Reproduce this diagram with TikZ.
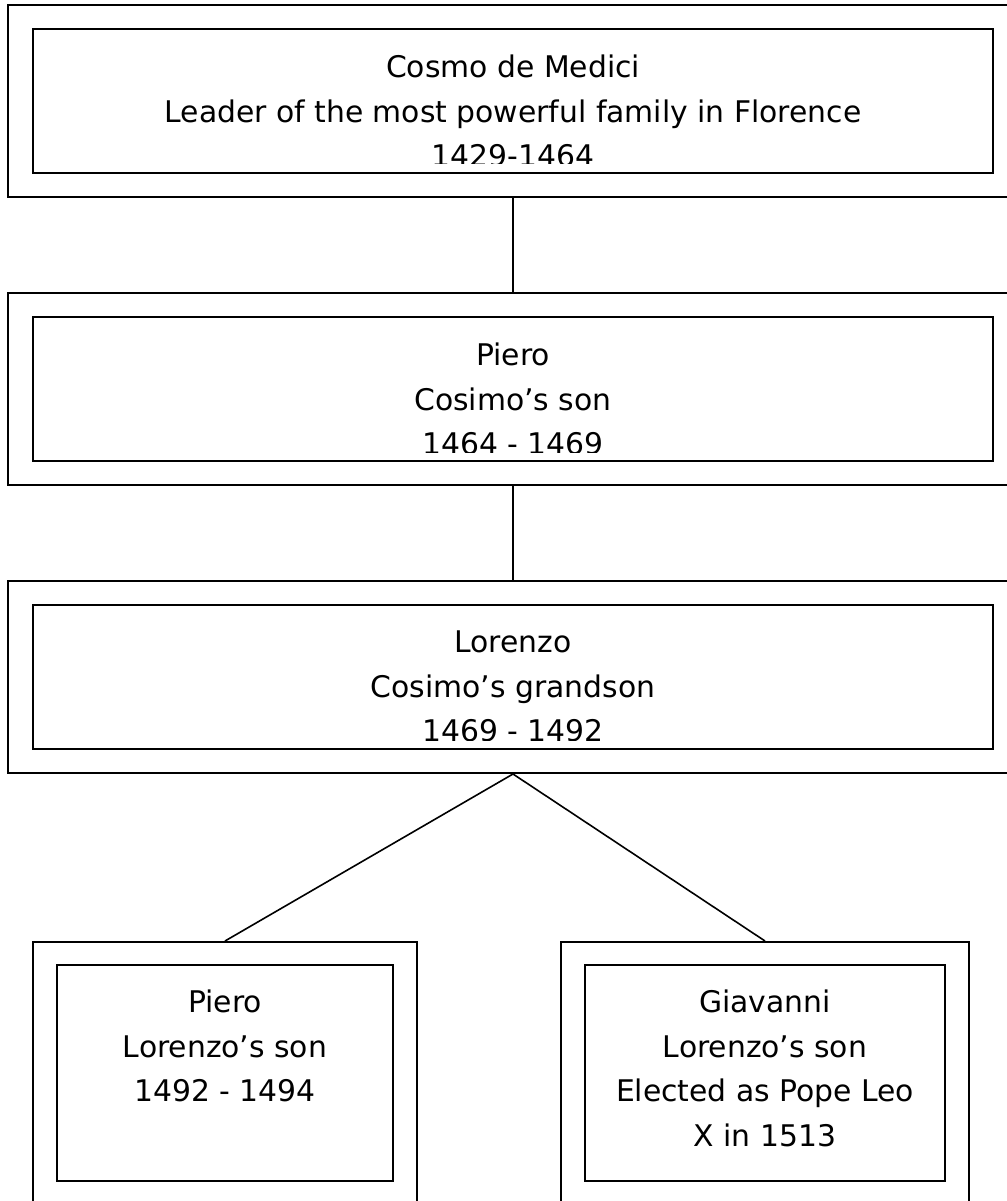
\documentclass[tikz,border=0pt]{standalone}
\usepackage{fontspec}
\setmainfont{DejaVu Sans}
\usepackage{tikz}
\usepackage{xcolor}

\begin{document}
\begin{tikzpicture}[x=1pt,y=-1pt]
\tikzstyle{outer} = [rectangle, draw, line width=2pt, inner sep=0pt];
\tikzstyle{inner} = [rectangle, draw, line width=2pt, inner sep=0pt];
\tikzstyle{label} = [align=center, inner sep=0pt, anchor=north,
font=\fontsize{29.8}{44.5}\selectfont];
\tikzstyle{line} = [draw, line width=1.6pt];

\useasboundingbox (0,0) rectangle (1006,1201);

% row 1
\node [outer, minimum width=1010pt, minimum height=192pt] (cosmo) at (513,101) {};
\node [inner, minimum width=960pt, minimum height=144pt] (cosmoin) at (513,101) {};
\begin{scope}
\clip (33,29) rectangle (993,164);
\node [label] (cosmotxt) at (513,55) {Cosmo de Medici\\
Leader of the most powerful family in Florence\\1429-1464};
\end{scope}

% row 2
\node [outer, minimum width=1010pt, minimum height=192pt] (piero) at (513,389) {};
\node [inner, minimum width=960pt, minimum height=144pt] (pieroin) at (513,389) {};
\begin{scope}
\clip (33,317) rectangle (993,452);
\node [label] (pierotxt) at (513,343) {Piero\\Cosimo’s son\\1464 - 1469};
\end{scope}

% row 3
\node [outer, minimum width=1010pt, minimum height=192pt] (lorenzo) at (513,677) {};
\node [inner, minimum width=960pt, minimum height=144pt] (lorenzoin) at (513,677) {};
\begin{scope}
\clip (33,605) rectangle (993,740);
\node [label] (lorenzotxt) at (513,631) {Lorenzo\\Cosimo’s grandson\\1469 - 1492};
\end{scope}

% row 4
\node [outer, minimum width=384pt, minimum height=263pt] (pierojr) at (225,1073.5) {};
\node [inner, minimum width=336pt, minimum height=216pt] (pierojrin) at (225,1073) {};
\node [label] (pierojrtxt) at (225,990) {Piero\\Lorenzo’s son\\1492 - 1494};

\node [outer, minimum width=408pt, minimum height=263pt] (giavanni) at (765,1073.5) {};
\node [inner, minimum width=360pt, minimum height=216pt] (giavanniin) at (765,1073) {};
\node [label] (giavannitxt) at (765,990) {Giavanni\\Lorenzo’s son\\Elected as Pope Leo\\X in 1513};

\tikzstyle{every path}=[line]
\path (cosmo) -- (piero);
\path (piero) -- (lorenzo);
\path (lorenzo.south) -- (pierojr.north);
\path (lorenzo.south) -- (giavanni.north);

\end{tikzpicture}
\end{document}
